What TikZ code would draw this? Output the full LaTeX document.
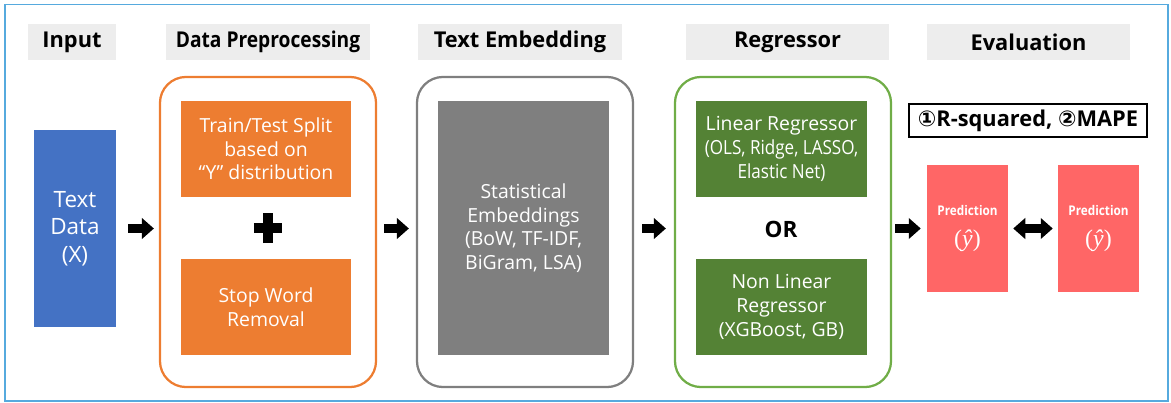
\documentclass[tikz,border=0pt]{standalone}
\usepackage{amsmath}
\usepackage{fontspec}
\setmainfont{Open Sans}
\newfontfamily\circfont{DejaVu Sans}
\newfontfamily\narrowfont[FakeStretch=0.88]{Open Sans}
\newfontfamily\yhatfont{Liberation Serif}
\usetikzlibrary{arrows.meta}

\definecolor{frameblue}{RGB}{86,170,222}
\definecolor{headgray}{RGB}{237,237,237}
\definecolor{inblue}{RGB}{68,114,196}
\definecolor{prepor}{RGB}{237,125,49}
\definecolor{embgray}{RGB}{127,127,127}
\definecolor{reggreen}{RGB}{112,173,71}
\definecolor{regdark}{RGB}{84,130,53}
\definecolor{predred}{RGB}{255,102,102}

\begin{document}
\begin{tikzpicture}[x=0.025cm,y=-0.025cm,
	stagehead/.style={fill=headgray,font=\bfseries\fontsize{15.5}{18}\selectfont,minimum height=0.9cm,inner sep=0pt},
	stageframe/.style={draw,line width=1.6pt,rounded corners=0.65cm,minimum width=5.4cm,minimum height=7.75cm},
	box/.style={text=white,align=center,inner sep=0pt,font=\fontsize{13.8}{16.8}\selectfont},
	blockarrow/.style={line width=7pt,-{Triangle[length=8.5pt,width=15pt,line width=0pt]}}]
	\useasboundingbox (0,0) rectangle (1171,402);
	\draw[frameblue,line width=1pt] (5,4.5) rectangle (1168,401);
	\node[stagehead,minimum width=2.2cm] (hin) at (72,42) {Input};
	\node[stagehead,minimum width=5.1cm] (hprep) at (268,42) {{\narrowfont\bfseries Data Preprocessing}};
	\node[stagehead,minimum width=5.1cm] (hemb) at (520,42) {Text Embedding};
	\node[stagehead,minimum width=5.075cm] (hreg) at (787.5,42) {Regressor};
	\node[stagehead,minimum width=5.075cm] (heval) at (1028.5,42) {Evaluation};
	\node[box,fill=inblue,minimum width=2.05cm,minimum height=4.925cm,font=\fontsize{16}{19.5}\selectfont] (input) at (75,228.5) {Text\\Data\\(X)};
	\node[stageframe,draw=prepor] (prep) at (268,232) {};
	\node[box,fill=prepor,minimum width=4.25cm,minimum height=2.4cm] (split) at (266,149) {Train/Test Split\\based on\\“Y” distribution};
	\node[box,fill=prepor,minimum width=4.25cm,minimum height=2.4cm] (stop) at (266,307) {Stop Word\\Removal};
	\coordinate (plus) at (268,228);
	\draw[line width=7pt] ([xshift=-0.35cm]plus) -- ([xshift=0.35cm]plus);
	\draw[line width=7pt] ([yshift=-0.38cm]plus) -- ([yshift=0.38cm]plus);
	\node[stageframe,draw=embgray] (emb) at (525,232) {};
	\node[box,fill=embgray,minimum width=4.275cm,minimum height=6.35cm] (stat) at (523.5,228) {Statistical\\Embeddings\\(BoW, TF-IDF,\\BiGram, LSA)};
	\node[stageframe,draw=reggreen] (reg) at (783,232) {};
	\node[box,fill=regdark,minimum width=4.275cm,minimum height=2.4cm] (lin) at (781.5,149) {Linear Regressor\\{\narrowfont (OLS, Ridge, LASSO,}\\{\narrowfont Elastic Net)}};
	\node[font=\bfseries\fontsize{16}{19}\selectfont] (or) at (781,229) {OR};
	\node[box,fill=regdark,minimum width=4.275cm,minimum height=2.4cm] (nonlin) at (781.5,307) {Non Linear\\Regressor\\(XGBoost, GB)};
	\node[draw,line width=1.1pt,minimum width=5.95cm,minimum height=0.825cm,inner sep=0pt,font=\bfseries\fontsize{15.5}{17}\selectfont] (metric) at (1028,120.5) {{\circfont ①}R-squared, {\circfont ②}MAPE};
	\node[box,fill=predred,minimum width=2.025cm,minimum height=3.175cm] (pred) at (967.5,228.5) {{\narrowfont\bfseries\fontsize{9.5}{11}\selectfont Prediction}\\[5pt]{\yhatfont\fontsize{17}{19}\selectfont(\textit{ŷ})}};
	\node[box,fill=predred,minimum width=2.025cm,minimum height=3.175cm] (truth) at (1098.5,228.5) {{\narrowfont\bfseries\fontsize{9.5}{11}\selectfont Prediction}\\[5pt]{\yhatfont\fontsize{17}{19}\selectfont(\textit{ŷ})}};
	\draw[blockarrow,shorten <=0.3cm,shorten >=0.125cm] (input.east) -- (input.east -| prep.west);
	\draw[blockarrow,shorten <=0.175cm,shorten >=0.175cm] (input.east -| prep.east) -- (input.east -| emb.west);
	\draw[blockarrow,shorten <=0.2cm,shorten >=0.2cm] (input.east -| emb.east) -- (input.east -| reg.west);
	\draw[blockarrow,shorten <=0.075cm,shorten >=0.15cm] (input.east -| reg.east) -- (pred.west);
	\draw[blockarrow,{Triangle[length=8.5pt,width=15pt,line width=0pt]}-{Triangle[length=8.5pt,width=15pt,line width=0pt]},shorten <=0.125cm,shorten >=0.125cm] (pred.east) -- (truth.west);
\end{tikzpicture}
\end{document}
